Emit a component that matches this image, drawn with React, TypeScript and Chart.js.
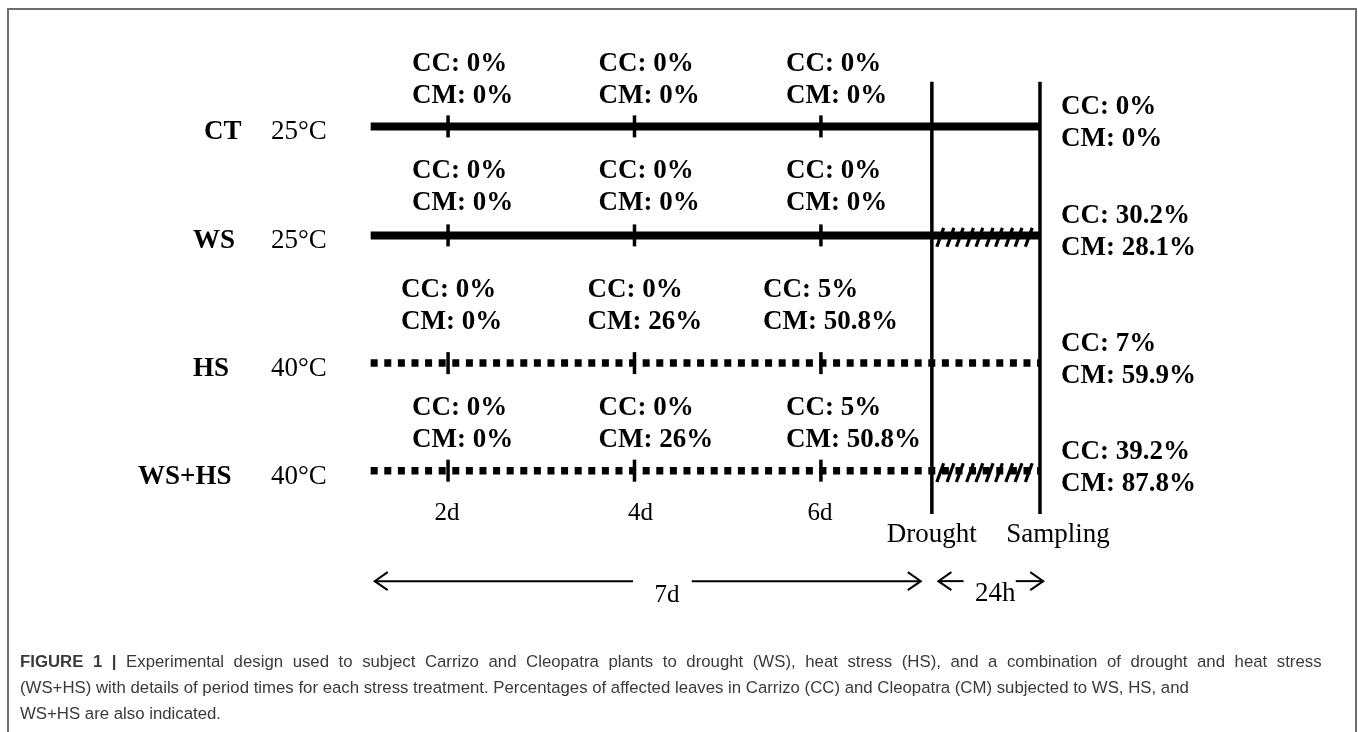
import React, { useEffect, useRef } from 'react';
import { Chart, registerables } from 'chart.js';

Chart.register(...registerables);

// treatments and their conditions
const treatments = ['CT', 'WS', 'HS', 'WS+HS'];
const temperatures = ['25°C', '25°C', '40°C', '40°C'];
const heatStress = [false, false, true, true];
const droughtStress = [false, true, false, true];

// check points (days) and % of affected leaves
const checkDays = [2, 4, 6];
const checkDayLabels = ['2d', '4d', '6d'];
const ccAtCheck = [[0, 0, 0], [0, 0, 0], [0, 0, 5], [0, 0, 5]];
const cmAtCheck = [[0, 0, 0], [0, 0, 0], [0, 26, 50.8], [0, 26, 50.8]];
const ccAtSampling = [0, 30.2, 7, 39.2];
const cmAtSampling = [0, 28.1, 59.9, 87.8];

// schematic time line (days)
const startDay = 1.17;
const droughtDay = 7.19;
const samplingDay = 8.35;
const hatchDays = [7.28, 7.39, 7.49, 7.6, 7.7, 7.81, 7.91, 8.02, 8.12, 8.23];
const periodLabels = ['7d', '24h'];

// layout
const W = 1358;
const H = 732;
const X_MIN = -2.651;
const X_MAX = 11.606;
const rowY = [116.5, 230, 363, 475];
const rowLabelX = [204, 193, 193, 138];
const tempX = 271;
const labelShift = [[-36, -36, -35], [-36, -36, -35], [-47, -47, -58], [-36, -36, -35]];
const labelRise = [62, 64, 73, 63];
const dayLabelShift = [-1, 6, -1];
const markerTop = 70;
const markerBottom = 520;
const arrowY = 590;

const SERIF = '"Liberation Serif", "Times New Roman", serif';
const pct = (v: number) => `${v}%`;

const segment = (x0: number, y0: number, x1: number, y1: number, extra: any = {}) => ({
  type: 'scatter' as const,
  data: [{ x: x0, y: y0 }, { x: x1, y: y1 }],
  showLine: true,
  borderColor: '#000',
  borderWidth: 3.5,
  pointRadius: 0,
  pointHoverRadius: 0,
  clip: false,
  ...extra,
});

const textPlugin = {
  id: 'diagramText',
  afterDatasetsDraw(chart: any) {
    const { ctx } = chart;
    const xs = chart.scales.x;
    const ys = chart.scales.y;
    const px = (d: number) => xs.getPixelForValue(d);
    const py = (v: number) => ys.getPixelForValue(v);

    // arrow heads
    chart.data.datasets.forEach((ds: any, i: number) => {
      if (!ds.arrowHead) return;
      const pts = chart.getDatasetMeta(i).data;
      ctx.save();
      ctx.strokeStyle = '#000';
      ctx.lineWidth = 2;
      ds.arrowHead.forEach((end: string) => {
        const p = end === 'start' ? pts[0] : pts[1];
        const dir = end === 'start' ? 1 : -1;
        ctx.beginPath();
        ctx.moveTo(p.x + dir * 13, p.y - 9);
        ctx.lineTo(p.x, p.y);
        ctx.lineTo(p.x + dir * 13, p.y + 9);
        ctx.stroke();
      });
      ctx.restore();
    });

    ctx.save();
    ctx.fillStyle = '#000';
    ctx.textBaseline = 'middle';
    ctx.textAlign = 'left';

    treatments.forEach((t, r) => {
      const y = py(rowY[r]);
      ctx.font = `bold 27px ${SERIF}`;
      ctx.fillText(t, rowLabelX[r], y + 6);
      ctx.font = `27px ${SERIF}`;
      ctx.fillText(temperatures[r], tempX, y + 6);

      ctx.font = `bold 27px ${SERIF}`;
      checkDays.forEach((d, c) => {
        const x = px(d) + labelShift[r][c];
        ctx.fillText(`CC: ${pct(ccAtCheck[r][c])}`, x, y - labelRise[r]);
        ctx.fillText(`CM: ${pct(cmAtCheck[r][c])}`, x, y - labelRise[r] + 32);
      });
      const xr = px(samplingDay) + 21;
      ctx.fillText(`CC: ${pct(ccAtSampling[r])}`, xr, y - 19);
      ctx.fillText(`CM: ${pct(cmAtSampling[r])}`, xr, y + 13);
    });

    ctx.textAlign = 'center';
    ctx.font = `25px ${SERIF}`;
    checkDays.forEach((d, c) => {
      ctx.fillText(checkDayLabels[c], px(d) + dayLabelShift[c], 513);
    });
    ctx.font = `27px ${SERIF}`;
    ctx.fillText('Drought', px(droughtDay), 535);
    ctx.fillText('Sampling', px(samplingDay) + 18, 535);
    ctx.font = `25px ${SERIF}`;
    ctx.fillText(periodLabels[0], px(4.35), arrowY + 5);
    ctx.font = `27px ${SERIF}`;
    ctx.fillText(periodLabels[1], px(7.87), arrowY + 4);
    ctx.restore();
  },
};

export default function App() {
  const canvasRef = useRef<HTMLCanvasElement | null>(null);
  const chartRef = useRef<Chart | null>(null);

  useEffect(() => {
    document.body.style.margin = '0';
    if (!canvasRef.current) return;
    if (chartRef.current) {
      chartRef.current.destroy();
      chartRef.current = null;
    }

    const datasets: any[] = [];

    // treatment time lines
    treatments.forEach((_, r) => {
      datasets.push(
        segment(startDay, rowY[r], samplingDay, rowY[r], {
          borderWidth: heatStress[r] ? 7.5 : 8,
          borderDash: heatStress[r] ? [7, 6.6] : [],
          borderCapStyle: 'butt',
        })
      );
    });

    // tick marks at check days
    datasets.push({
      type: 'scatter',
      data: treatments.flatMap((_, r) => checkDays.map((d) => ({ x: d, y: rowY[r] }))),
      pointStyle: 'line',
      pointRotation: 90,
      pointRadius: 11,
      pointHoverRadius: 11,
      pointBorderWidth: 3.5,
      pointBorderColor: '#000',
      clip: false,
    });

    // drought and sampling markers
    datasets.push(segment(droughtDay, markerTop, droughtDay, markerBottom));
    datasets.push(segment(samplingDay, markerTop, samplingDay, markerBottom));

    // hatching for the drought period
    datasets.push({
      type: 'scatter',
      data: treatments.flatMap((_, r) =>
        droughtStress[r] ? hatchDays.map((d) => ({ x: d, y: rowY[r] + 2 })) : []
      ),
      pointStyle: 'line',
      pointRotation: -70,
      pointRadius: 10,
      pointHoverRadius: 10,
      pointBorderWidth: 3.2,
      pointBorderColor: '#000',
      clip: false,
    });

    // period arrows
    datasets.push(segment(1.213, arrowY, 3.984, arrowY, { borderWidth: 2, arrowHead: ['start'] }));
    datasets.push(segment(4.614, arrowY, 7.071, arrowY, { borderWidth: 2, arrowHead: ['end'] }));
    datasets.push(segment(7.26, arrowY, 7.53, arrowY, { borderWidth: 2, arrowHead: ['start'] }));
    datasets.push(segment(8.09, arrowY, 8.385, arrowY, { borderWidth: 2, arrowHead: ['end'] }));

    chartRef.current = new Chart(canvasRef.current, {
      type: 'scatter',
      data: { datasets },
      options: {
        animation: false,
        responsive: false,
        maintainAspectRatio: false,
        events: [],
        layout: { padding: 0 },
        scales: {
          x: { type: 'linear', min: X_MIN, max: X_MAX, display: false },
          y: { type: 'linear', min: 0, max: H, reverse: true, display: false },
        },
        plugins: { legend: { display: false }, tooltip: { enabled: false } },
      },
      plugins: [textPlugin],
    });

    return () => {
      if (chartRef.current) {
        chartRef.current.destroy();
        chartRef.current = null;
      }
    };
  }, []);

  return (
    <div style={{ position: 'relative', width: W, height: H, overflow: 'hidden', background: '#fff' }}>
      <div
        style={{
          position: 'absolute',
          left: 7,
          top: 8,
          width: 1346,
          height: H,
          borderTop: '2px solid #6e6e6e',
          borderLeft: '2px solid #6e6e6e',
          borderRight: '2px solid #6e6e6e',
        }}
      />
      <canvas ref={canvasRef} width={W} height={H} style={{ position: 'absolute', left: 0, top: 0 }} />
      <div
        style={{
          position: 'absolute',
          left: 20,
          top: 649,
          fontFamily: '"Liberation Sans", Arial, sans-serif',
          fontSize: 16.8,
          lineHeight: '26px',
          color: '#3a3a3a',
          whiteSpace: 'nowrap',
        }}
      >
        <div style={{ wordSpacing: '4.9px' }}>
          <b>FIGURE 1 |</b> Experimental design used to subject Carrizo and Cleopatra plants to drought (WS), heat stress (HS), and a combination of drought and heat stress
        </div>
        <div>
          (WS+HS) with details of period times for each stress treatment. Percentages of affected leaves in Carrizo (CC) and Cleopatra (CM) subjected to WS, HS, and
        </div>
        <div>WS+HS are also indicated.</div>
      </div>
    </div>
  );
}
